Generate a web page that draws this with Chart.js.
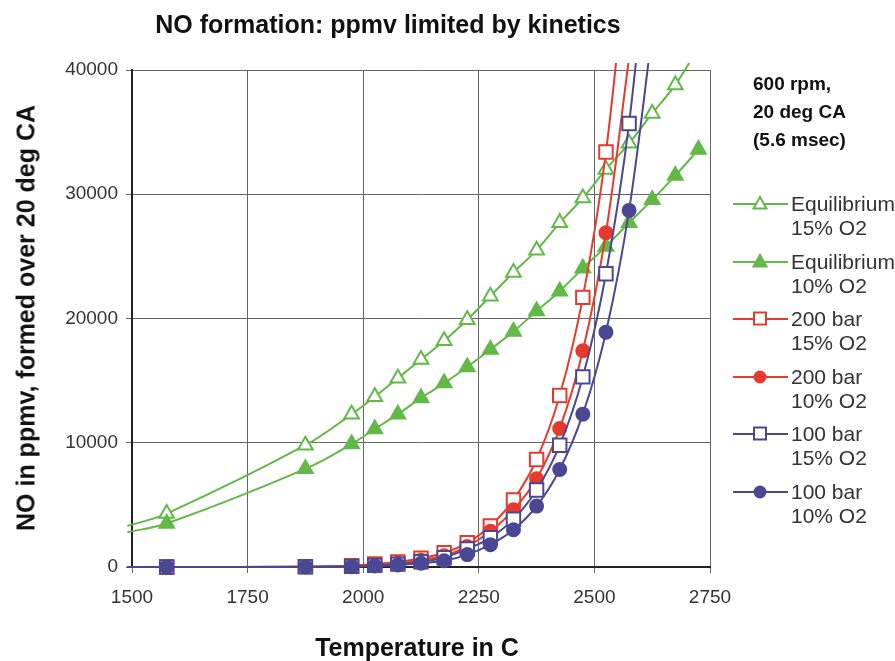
<!DOCTYPE html>
<html>
<head>
<meta charset="utf-8">
<script src="https://cdn.jsdelivr.net/npm/chart.js@4.4.1/dist/chart.umd.min.js"></script>
<style>
body { margin: 0; background: #fff; font-family: "Liberation Sans", Arial, sans-serif; }
#wrap { position: relative; width: 895px; height: 661px; overflow: hidden; }
#chart { position: absolute; left: 0; top: 0; }
.lbl { position: absolute; font-weight: bold; color: #111; white-space: nowrap; }
#legend { position: absolute; left: 733px; top: 0; color: #333; }
.note { position: absolute; left: 20px; top: 70px; font-weight: bold; font-size: 19px; line-height: 28px; color: #111; white-space: nowrap; }
.entry { position: absolute; left: 0; display: flex; align-items: flex-start; font-size: 21px; line-height: 24px; white-space: nowrap; }
.entry svg { margin-top: 2px; margin-right: 2px; }
</style>
</head>
<body>
<div id="wrap">
  <canvas id="chart" width="895" height="661"></canvas>
  <div class="lbl" id="title" style="left:388px; top:10px; transform:translateX(-50%); font-size:25px;">NO formation: ppmv limited by kinetics</div>
  <div class="lbl" id="xtitle" style="left:417px; top:633px; transform:translateX(-50%); font-size:25px;">Temperature in C</div>
  <div class="lbl" id="ytitle" style="left:26px; top:318px; transform:translate(-50%,-50%) rotate(-90deg); font-size:25px;">NO in ppmv, formed over 20 deg CA</div>
  <div id="legend"></div>
</div>
<script>
const eqTemps = [1490, 1575, 1875, 1975, 2025, 2075, 2125, 2175, 2225, 2275, 2325, 2375, 2425, 2475, 2525, 2575, 2625, 2675, 2725];
const kinTemps = [1490, 1575, 1875, 1975, 2025, 2075, 2125, 2175, 2225, 2275, 2325, 2375, 2425, 2475, 2525, 2575, 2625];

const eq15 = [3300, 4300, 9800, 12300, 13700, 15200, 16700, 18200, 19900, 21800, 23700, 25500, 27700, 29700, 32000, 34100, 36500, 38800, 41800];
const eq10 = [2800, 3500, 7900, 9900, 11100, 12300, 13600, 14800, 16100, 17500, 18950, 20600, 22200, 24050, 25800, 27700, 29550, 31500, 33600];
const bar200_15 = [0, 0, 30, 100, 250, 400, 700, 1150, 1950, 3300, 5400, 8650, 13800, 21700, 33400, 51000];
const bar200_10 = [0, 0, 20, 70, 180, 300, 550, 900, 1650, 2870, 4600, 7100, 11150, 17400, 26900, 41000];
const bar100_15 = [0, 0, 15, 50, 130, 230, 420, 750, 1450, 2350, 3850, 6200, 9800, 15300, 23600, 35700, 54000];
const bar100_10 = [0, 0, 10, 30, 90, 170, 300, 500, 1000, 1800, 3000, 4900, 7850, 12300, 18900, 28700, 43000];

const xTicks = [1500, 1750, 2000, 2250, 2500, 2750];
const yTicks = [0, 10000, 20000, 30000, 40000];

const noteLines = ['600 rpm,', '20 deg CA', '(5.6 msec)'];

const GREEN = '#62b947', RED = '#e63a2f', BLUE = '#4a4794';

const series = [
    { label: ['Equilibrium', '15% O2'], x: eqTemps, y: eq15, color: GREEN, style: 'triangle', open: true, hidden: [0, 18] },
    { label: ['Equilibrium', '10% O2'], x: eqTemps, y: eq10, color: GREEN, style: 'triangle', open: false, hidden: [0] },
    { label: ['200 bar', '15% O2'], x: kinTemps, y: bar200_15, color: RED, style: 'rect', open: true, hidden: [0, 15] },
    { label: ['200 bar', '10% O2'], x: kinTemps, y: bar200_10, color: RED, style: 'circle', open: false, hidden: [0, 15] },
    { label: ['100 bar', '15% O2'], x: kinTemps, y: bar100_15, color: BLUE, style: 'rect', open: true, hidden: [0, 16] },
    { label: ['100 bar', '10% O2'], x: kinTemps, y: bar100_10, color: BLUE, style: 'circle', open: false, hidden: [0, 16] }
];

const sizes = { triangle: 8.5, rect: 9.5, circle: 6.5 };

const datasets = series.map((s, i) => ({
    label: s.label.join(' '),
    data: s.y.map((v, j) => ({ x: s.x[j], y: v })),
    borderColor: s.color,
    borderWidth: 2,
    backgroundColor: s.color,
    pointStyle: s.style,
    pointRadius: s.y.map((v, j) => s.hidden.includes(j) ? 0 : sizes[s.style]),
    pointBorderColor: s.color,
    pointBackgroundColor: s.open ? '#fff' : s.color,
    pointBorderWidth: 2,
    tension: 0.35,
    capBezierPoints: false,
    clip: { left: 10, top: 7, right: 5, bottom: 12 },
    order: series.length - i
}));

new Chart(document.getElementById('chart'), {
    type: 'line',
    data: { datasets },
    options: {
        responsive: false,
        animation: false,
        events: [],
        layout: { padding: { left: 0, top: 70, right: 185, bottom: 0 } },
        plugins: { legend: { display: false }, tooltip: { enabled: false } },
        scales: {
            x: {
                type: 'linear', min: 1500, max: 2750,
                afterFit: s => { s.height = 94; },
                afterBuildTicks: s => { s.ticks = xTicks.map(v => ({ value: v })); },
                grid: { color: '#666', lineWidth: 1, tickLength: 6 },
                border: { color: '#222', width: 2 },
                ticks: { color: '#333', font: { family: 'Liberation Sans', size: 19 }, padding: 13, callback: v => String(v) }
            },
            y: {
                type: 'linear', min: 0, max: 40000,
                afterFit: s => { s.width = 132; },
                afterBuildTicks: s => { s.ticks = yTicks.map(v => ({ value: v })); },
                grid: { color: '#666', lineWidth: 1, tickLength: 6 },
                border: { color: '#222', width: 2 },
                ticks: { color: '#333', font: { family: 'Liberation Sans', size: 19 }, padding: 8, callback: v => String(v) }
            }
        }
    }
});

// legend: header note plus one two-line entry per series
const legend = document.getElementById('legend');
const note = document.createElement('div');
note.className = 'note';
note.innerHTML = noteLines.join('<br>');
legend.appendChild(note);

function markerSvg(s) {
    const fill = s.open ? '#fff' : s.color;
    let m = '';
    if (s.style === 'triangle') m = `<polygon points="27,3 33.5,14.5 20.5,14.5" fill="${fill}" stroke="${s.color}" stroke-width="2"/>`;
    else if (s.style === 'rect') m = `<rect x="21" y="3.5" width="12" height="12" fill="${fill}" stroke="${s.color}" stroke-width="2"/>`;
    else m = `<circle cx="27" cy="10" r="6.5" fill="${fill}"/>`;
    return `<svg width="56" height="20"><line x1="0" y1="10" x2="55" y2="10" stroke="${s.color}" stroke-width="2"/>${m}</svg>`;
}

series.forEach((s, i) => {
    const e = document.createElement('div');
    e.className = 'entry';
    e.style.top = (192 + i * 57.5) + 'px';
    e.innerHTML = markerSvg(s) + '<div>' + s.label.join('<br>') + '</div>';
    legend.appendChild(e);
});
</script>
</body>
</html>
